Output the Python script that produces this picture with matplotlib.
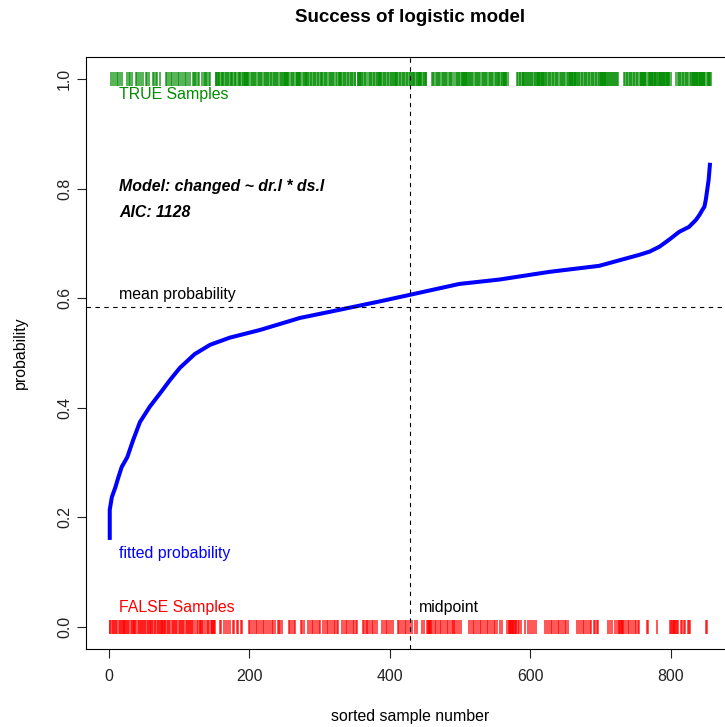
import matplotlib
matplotlib.use("Agg")
import matplotlib.pyplot as plt

plt.rcParams['font.family'] = ['Liberation Sans', 'DejaVu Sans']

# outcome of each sample, in order of fitted probability (T = TRUE, F = FALSE)
outcome_runs = [
    "FFTFTFFTFFTFTFFTFFTF", "FFFF", "TFFTFTFFTF", "FFF", "TFTFFTFT", "FFF",
    "TFFTFTFFTF", "FFF", "TFTFFTFTFFTF", "F" * 7, "TFTFTFFTFT", "FF",
    "TFTFFTFTFTF", "FF", "TFTFTFTFFT", "FFF", "TFTFTTFTFTF", "FFF",
    "TFTFTTFTFTFT", "F" * 7, "T" * 5,
    "TFTFTTTFTFTTTFTFTTTFTFTTTFTFTTTFTFTT", "T" * 6, "FTFTTFTFTTFTF", "TT",
    "FTFTTFTFTTFT", "T", "FTFTTFTFTF", "TTT", "FTFTFTF", "T" * 9,
    "FTFTTFTFTF", "T" * 7, "FTFTF", "T" * 6, "FTFTTFTFTTFTFTTFF", "TTTT",
    "FTFTTFTFTTFTF", "TT", "FTFTTFF", "T" * 5, "FTFTTFTFTTFTFTTFTFTTFF",
    "T" * 7, "FTFTTFF", "T", "FTFTTFTFTTFTF", "T" * 7, "FTFTTFTFTTFTFTTF",
    "T" * 6, "FTFTTFTFTTFTFTTFTFTTF", "TTTT", "FTF", "T" * 7, "FTF", "TTTT",
    "F" * 7, "TFTTFTFTTFTFTFT", "F", "TTFTTFTFTTFTT", "FFF", "TFTFTTFTTFT",
    "T" * 9, "FTTFTTFTFTFTTFTTFTFTFTTFTTFTFTFTTFTTFTFTTF", "TTT", "FTTF",
    "T" * 6, "FTFF", "F" * 10, "TFTFTTF", "T" * 5, "FTTF", "TTT", "FTTFTFTTFT",
    "T" * 11, "FTTFTFTTFTFTTFTFTTFTFTTFTFTTFTFTF", "T" * 13,
    "FTTFTFTTFTFTTFTFTTFTFTTFTFTTFTFT", "T" * 12, "FTTFTF", "TTTT", "FTFTTFF",
    "F" * 5, "TFTFTTFTFTTFTFTTFTFTTFF", "T" * 10, "FTF", "T" * 12, "FT",
    "T" * 16, "FTFF", "F" * 5, "TFTFTTFTFTTFTFTTFTFF", "T" * 22, "FTF", "T" * 5,
]
outcome = "".join(outcome_runs)
n = len(outcome)
true_x = [i + 1 for i, c in enumerate(outcome) if c == "T"]
false_x = [i + 1 for i, c in enumerate(outcome) if c == "F"]

# sorted fitted probability
curve_x = [1, 1, 4, 9, 13, 18, 26, 34, 44, 58, 73, 87, 101, 122, 144, 172,
           215, 272, 329, 385, 428, 499, 556, 627, 698, 755, 770, 784, 798,
           812, 826, 836, 841, 845, 848, 850, 852, 854, 856]
curve_p = [0.159, 0.214, 0.237, 0.255, 0.272, 0.292, 0.31, 0.34, 0.374,
           0.402, 0.427, 0.451, 0.473, 0.498, 0.515, 0.528, 0.542, 0.564,
           0.579, 0.594, 0.606, 0.626, 0.634, 0.648, 0.659, 0.679, 0.685,
           0.694, 0.707, 0.721, 0.730, 0.743, 0.752, 0.761, 0.767, 0.780,
           0.798, 0.816, 0.847]

mean_prob = 0.584
midpoint = 428
xticks = [0, 200, 400, 600, 800]
yticks = [0.0, 0.2, 0.4, 0.6, 0.8, 1.0]

W, H = 725, 727
fig = plt.figure(figsize=(W / 100, H / 100), dpi=100)
ax = fig.add_axes([85.7 / W, 78 / H, 649.1 / W, 592 / H])

ax.vlines(true_x, 0.987, 1.013, colors="#008B00", alpha=0.75, lw=1.25)
ax.vlines(false_x, -0.013, 0.013, colors="#FF0000", alpha=0.75, lw=1.25)
ax.plot(curve_x, curve_p, color="#0000FF", lw=2.9, solid_capstyle="butt")
ax.axhline(mean_prob, color="black", lw=0.8, ls=(0, (4, 4)))
ax.axvline(midpoint, color="black", lw=0.8, ls=(0, (4, 4)))

fs = 11.4
ax.text(14, 0.971, "TRUE Samples", color="#008B00", fontsize=fs, va="center")
ax.text(14, 0.0365, "FALSE Samples", color="#FF0000", fontsize=fs, va="center")
ax.text(441, 0.0365, "midpoint", color="black", fontsize=fs, va="center")
ax.text(14, 0.606, "mean probability", color="black", fontsize=fs, va="center")
ax.text(14, 0.135, "fitted probability", color="#0000FF", fontsize=fs,
        va="center")
ax.text(14, 0.803, "Model: changed ~ dr.l * ds.l", fontsize=fs,
        fontweight="bold", fontstyle="italic", va="center")
ax.text(14, 0.756, "AIC: 1128", fontsize=fs, fontweight="bold",
        fontstyle="italic", va="center")

span = (n - 1) * 0.04
ax.set_xlim(1 - span, n + span)
ax.set_ylim(-0.04, 1.04)
ax.set_xticks(xticks)
ax.set_xticklabels([str(t) for t in xticks])
ax.set_yticks(yticks)
ax.set_yticklabels([f"{t:.1f}" for t in yticks], rotation=90, va="center")
ax.tick_params(direction="out", length=6.8, width=0.8, labelsize=fs,
               colors="#222222")
ax.tick_params(axis="x", pad=7.5)
ax.tick_params(axis="y", pad=3)
for s in ax.spines.values():
    s.set_linewidth(0.8)

fig.text(410 / W, 1 - 18 / H, "Success of logistic model", fontsize=13.5,
         fontweight="bold", ha="center", va="center")
fig.text(410 / W, 1 - 716 / H, "sorted sample number", fontsize=fs,
         ha="center", va="center")
fig.text(20 / W, 1 - 353 / H, "probability", fontsize=fs, rotation=90,
         ha="center", va="center")

fig.savefig("out.png", dpi=100)
